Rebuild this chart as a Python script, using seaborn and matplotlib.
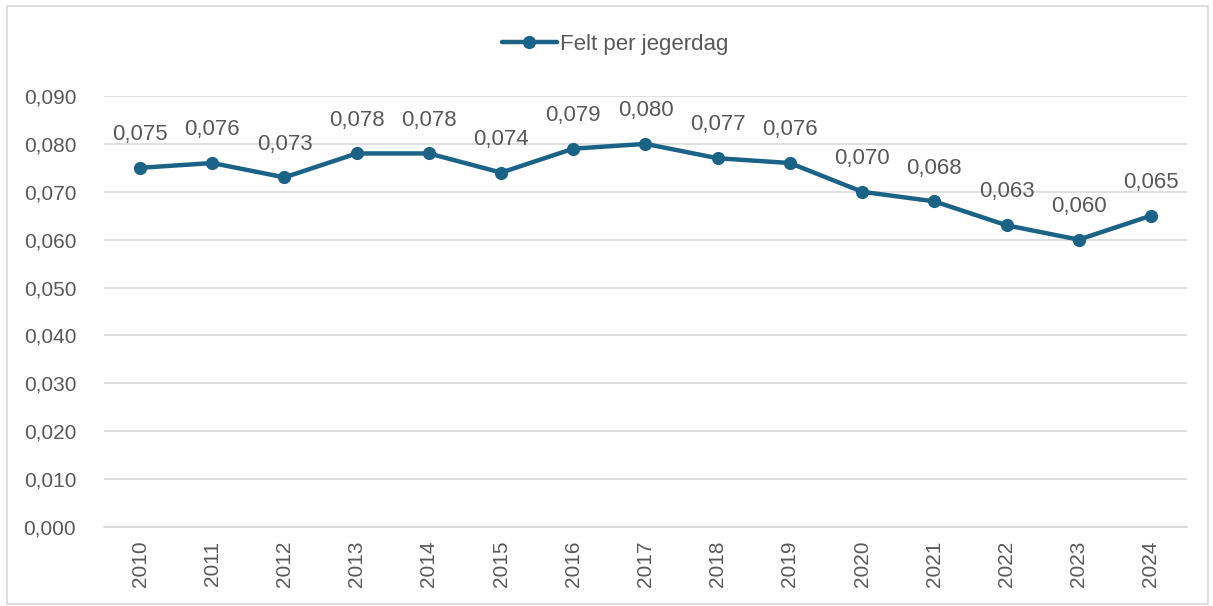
import matplotlib
matplotlib.use("Agg")
import matplotlib.pyplot as plt
import seaborn as sns
import pandas as pd
from matplotlib.patches import Rectangle
from matplotlib.ticker import FuncFormatter, MultipleLocator

years = ["2010", "2011", "2012", "2013", "2014", "2015", "2016", "2017",
         "2018", "2019", "2020", "2021", "2022", "2023", "2024"]
values = [0.075, 0.076, 0.073, 0.078, 0.078, 0.074, 0.079, 0.080,
          0.077, 0.076, 0.070, 0.068, 0.063, 0.060, 0.065]
series_name = "Felt per jegerdag"

sns.set_theme(style="white")
plt.rcParams['font.family'] = ['Liberation Sans', 'DejaVu Sans']

color = "#1B6287"
text_color = "#595959"

df = pd.DataFrame({"x": list(range(len(years))), "y": values, "s": series_name})

fig = plt.figure(figsize=(12.13, 6.06), dpi=100)
ax = fig.add_axes([0.0857, 0.1304, 0.8929, 0.7112])

sns.lineplot(data=df, x="x", y="y", hue="s", palette=[color], ax=ax,
             marker="o", markersize=9.5, linewidth=3.2, markeredgewidth=0,
             legend=True)

ax.set_xlim(-0.5, len(years) - 0.5)
ax.set_ylim(0, 0.09)
ax.yaxis.set_major_locator(MultipleLocator(0.01))
ax.yaxis.set_major_formatter(FuncFormatter(lambda v, p: f"{v:.3f}".replace(".", ",")))
ax.set_xticks(range(len(years)))
ax.set_xticklabels(years, rotation=90)
ax.tick_params(axis="both", colors=text_color, labelsize=15, length=0)
ax.tick_params(axis="y", pad=20)
ax.tick_params(axis="x", pad=10)
ax.set_xlabel("")
ax.set_ylabel("")
ax.grid(axis="y", color="#D9D9D9", linewidth=1.2)
ax.set_axisbelow(True)
for s in ["top", "right", "left"]:
    ax.spines[s].set_visible(False)
ax.spines["bottom"].set_color("#D9D9D9")
ax.spines["bottom"].set_linewidth(1.2)

for i, v in enumerate(values):
    ax.annotate(f"{v:.3f}".replace(".", ","), (i, v), xytext=(0, 24),
                textcoords="offset points", ha="center", va="center",
                fontsize=16, color=text_color)

leg = ax.legend(loc="upper center", bbox_to_anchor=(0.472, 1.19), frameon=False,
                fontsize=16, handlelength=2.5, handletextpad=0.15)
for t in leg.get_texts():
    t.set_color(text_color)

fig.patches.append(Rectangle((0.006, 0.004), 0.99, 0.986, transform=fig.transFigure,
                             fill=False, edgecolor="#D9D9D9", linewidth=1.2))

fig.savefig("out.png", dpi=100)
